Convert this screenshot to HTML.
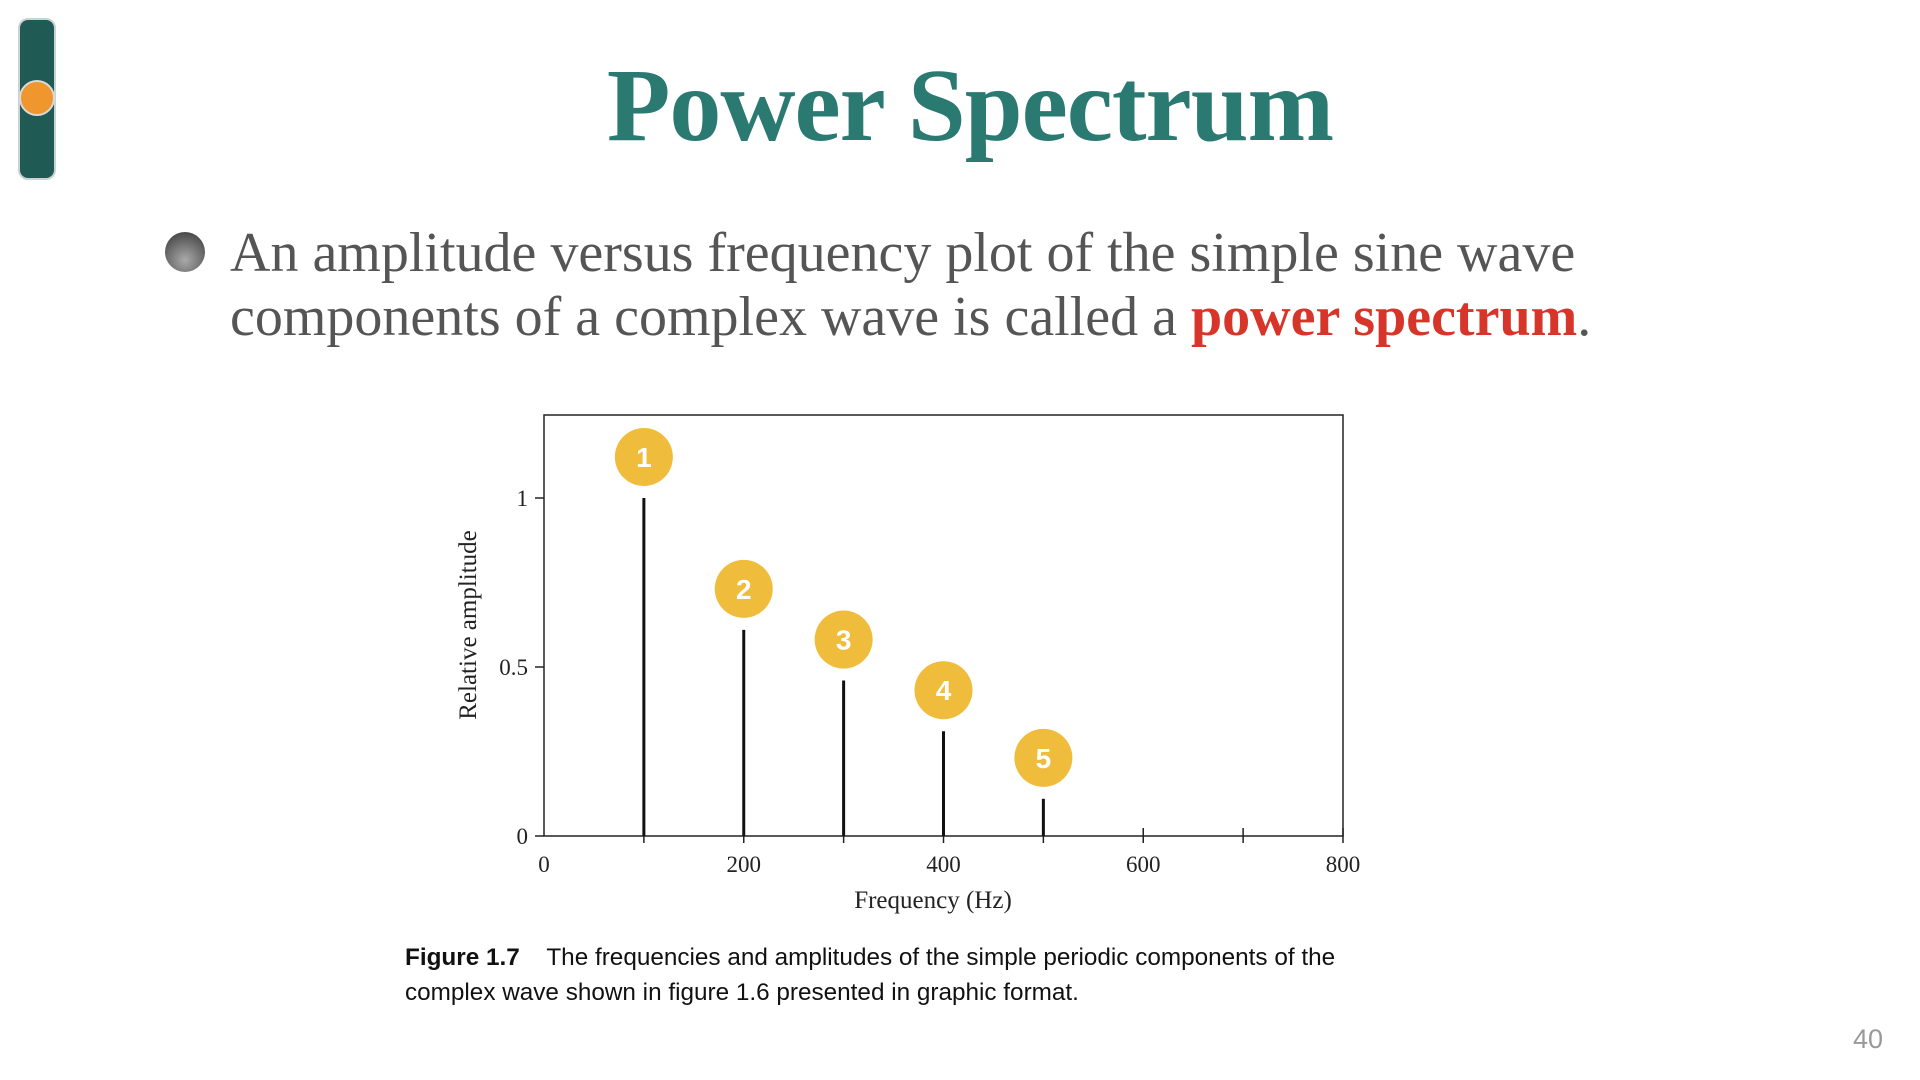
<!DOCTYPE html>
<html><head><meta charset="utf-8"><style>
body{margin:0;width:1920px;height:1080px;background:#fff;position:relative;overflow:hidden;font-family:"Liberation Serif",serif}
.abs{position:absolute}
</style></head><body>
<div class="abs" style="left:18px;top:18px;width:38px;height:162px;background:#1f5a55;border:2px solid #c9d4d2;border-radius:10px;box-sizing:border-box"></div>
<div class="abs" style="left:19px;top:80px;width:36px;height:36px;background:#f0962e;border:2px solid #d9d9d9;border-radius:50%;box-sizing:border-box"></div>
<div class="abs" style="left:0;width:1940px;top:46px;text-align:center;font-weight:bold;font-size:104px;color:#2a7a72;letter-spacing:-1px">Power Spectrum</div>
<div class="abs" style="left:165px;top:232px;width:40px;height:40px;border-radius:50%;background:radial-gradient(circle at 50% 70%,#aaa,#333)"></div>
<div class="abs" style="left:230px;top:221px;font-size:56px;line-height:64px;color:#555">An amplitude versus frequency plot of the simple sine wave<br>components of a complex wave is called a <b style="color:#d8352a">power spectrum</b>.</div>
<svg class="abs" style="left:0;top:0" width="1920" height="1080" id="chart"></svg>
<div class="abs" style="left:405px;top:940px;font-family:'Liberation Sans Narrow','Liberation Sans',sans-serif;font-size:24.3px;line-height:35px;color:#111"><b>Figure 1.7</b>&nbsp;&nbsp;&nbsp; The frequencies and amplitudes of the simple periodic components of the<br>complex wave shown in figure 1.6 presented in graphic format.</div>
<div class="abs" style="left:1853px;top:1024px;font-family:'Liberation Sans',sans-serif;font-size:27px;color:#999">40</div>
<script>
const freqs=[100,200,300,400,500];
const amps=[1.0,0.61,0.46,0.31,0.11];
const labels=["1","2","3","4","5"];
const xTicks=[0,200,400,600,800];
const yTicks=[0,0.5,1];
const yTickLabels=["0","0.5","1"];
const X=v=>544+v*(1343-544)/800, Y=v=>836-v*(836-498);
const svg=document.getElementById('chart'),NS="http://www.w3.org/2000/svg";
function mk(t,a,txt){const e=document.createElementNS(NS,t);for(const k in a)e.setAttribute(k,a[k]);if(txt!=null)e.textContent=txt;svg.appendChild(e);return e;}
let e=mk('rect',{x:544,y:415,width:799,height:421,fill:'none',stroke:'#222','stroke-width':1.5});


yTicks.forEach((v,i)=>{
 e=mk('line',{x1:535,x2:544,y1:Y(v),y2:Y(v),stroke:'#222','stroke-width':1.5});
 
 
 e=mk('text',{x:528,y:Y(v)+8,'text-anchor':'end','font-size':23,fill:'#222'},yTickLabels[i]);
 
 
});
for(let v=100;v<=800;v+=100){
 e=mk('line',{x1:X(v),x2:X(v),y1:828,y2:843,stroke:'#222','stroke-width':1.5});
 
 
}
xTicks.forEach(v=>{
 e=mk('text',{x:X(v),y:872,'text-anchor':'middle','font-size':23,fill:'#222'},String(v));
 
 
});
e=mk('text',{x:933,y:908,'text-anchor':'middle','font-size':25,fill:'#222'},'Frequency (Hz)');


e=mk('text',{x:0,y:0,'text-anchor':'middle','font-size':25,fill:'#222',transform:'translate(476,625) rotate(-90)'},'Relative amplitude');


freqs.forEach((f,i)=>{
 e=mk('line',{x1:X(f),x2:X(f),y1:Y(0),y2:Y(amps[i]),stroke:'#111','stroke-width':3});
 
 
 e=mk('circle',{cx:X(f),cy:Y(amps[i])-41,r:29,fill:'#f0bc3c'});
 
 
 e=mk('text',{x:X(f),y:Y(amps[i])-31,'text-anchor':'middle','font-size':28,'font-weight':'bold','font-family':'Liberation Sans,sans-serif',fill:'#fff'},labels[i]);
 
 
});
</script>
</body></html>
